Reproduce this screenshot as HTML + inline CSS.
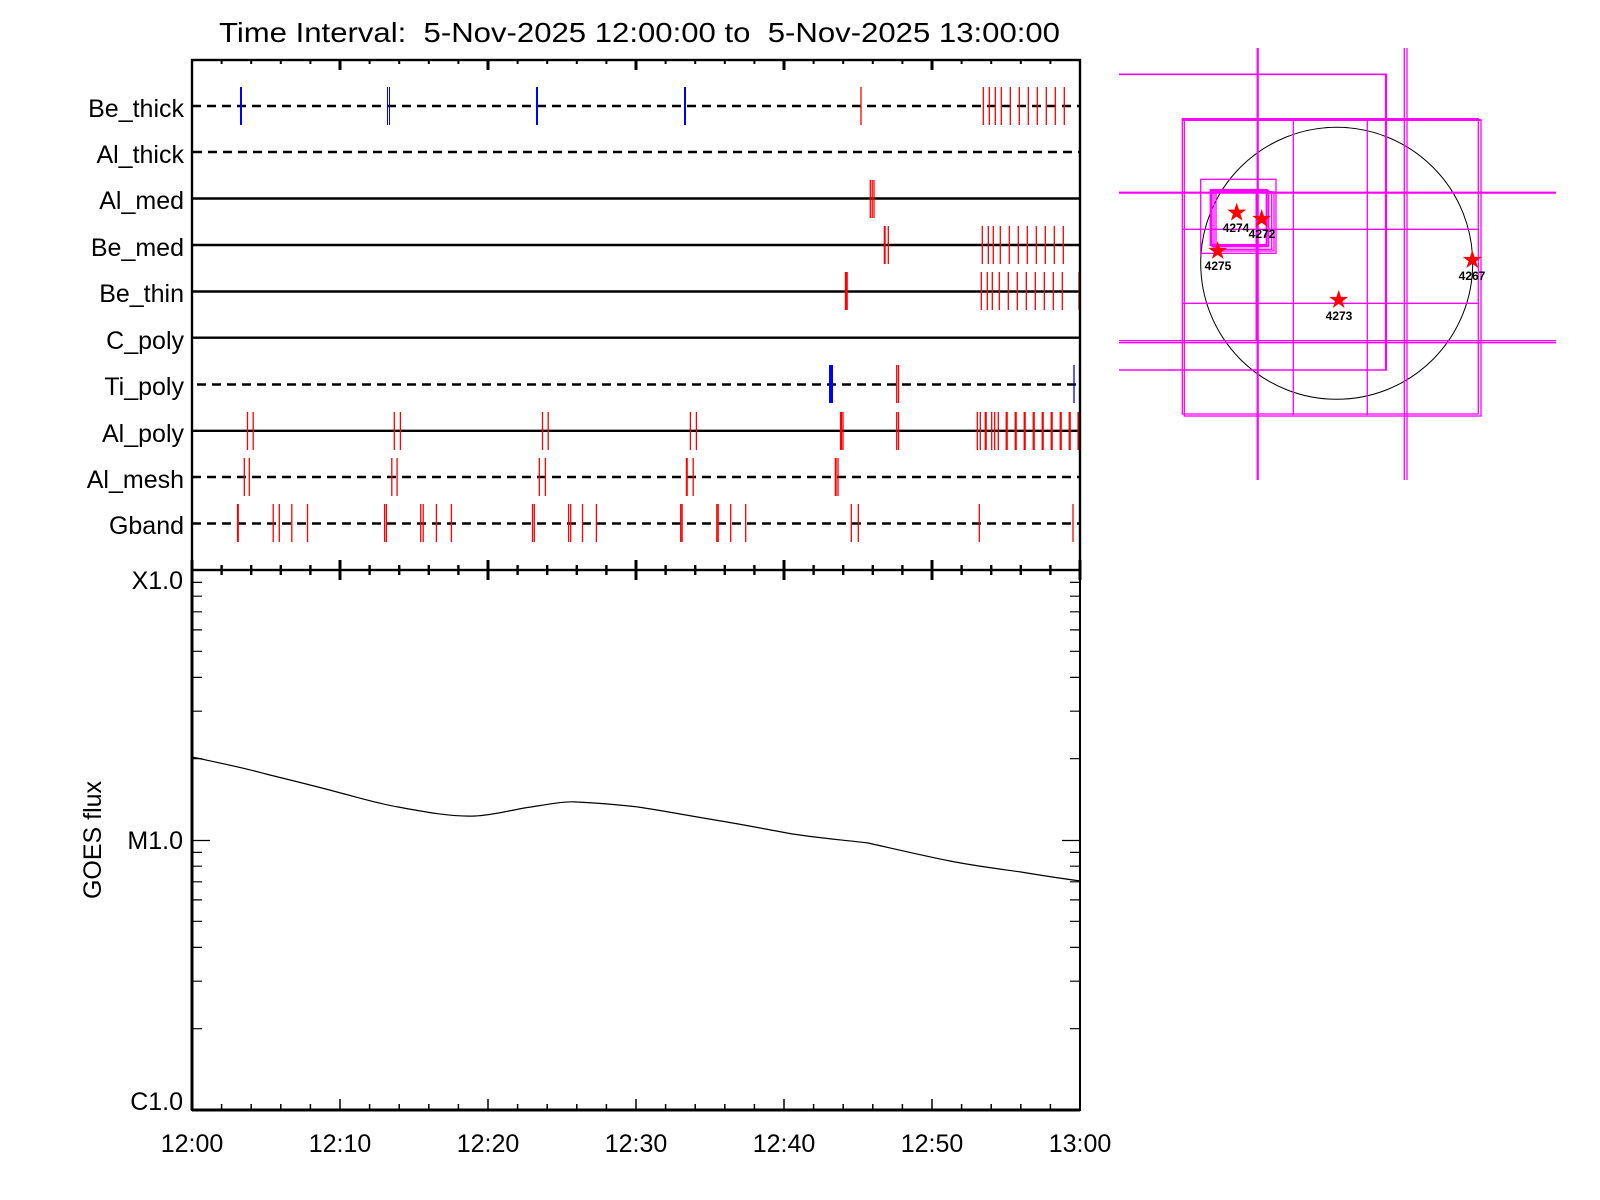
<!DOCTYPE html>
<html><head><meta charset="utf-8"><style>body{margin:0;background:#fff}svg{display:block}</style></head><body>
<svg xmlns="http://www.w3.org/2000/svg" width="1600" height="1200" viewBox="0 0 1600 1200" font-family="Liberation Sans, sans-serif">
<rect width="1600" height="1200" fill="#fff"/>
<text x="219" y="42" font-size="28" textLength="841" lengthAdjust="spacingAndGlyphs">Time Interval:&#160; 5-Nov-2025 12:00:00 to&#160; 5-Nov-2025 13:00:00</text>

<g stroke="#000" stroke-width="2.4" fill="none">
<line x1="192" y1="106" x2="1080" y2="106" stroke-dasharray="9,6"/>
<line x1="193" y1="152" x2="1080" y2="152" stroke-dasharray="9,6"/>
<line x1="192" y1="198.5" x2="1080" y2="198.5"/>
<line x1="192" y1="245" x2="1080" y2="245"/>
<line x1="192" y1="291.5" x2="1080" y2="291.5"/>
<line x1="192" y1="337.7" x2="1080" y2="337.7"/>
<line x1="197" y1="384.5" x2="1080" y2="384.5" stroke-dasharray="9,6"/>
<line x1="192" y1="430.8" x2="1080" y2="430.8"/>
<line x1="192" y1="477" x2="1080" y2="477" stroke-dasharray="9,6"/>
<line x1="192" y1="523.5" x2="1080" y2="523.5" stroke-dasharray="9,6"/>
</g>

<g font-size="25" text-anchor="end">
<text x="184" y="117">Be_thick</text>
<text x="184" y="163">Al_thick</text>
<text x="184" y="209">Al_med</text>
<text x="184" y="256">Be_med</text>
<text x="184" y="302">Be_thin</text>
<text x="184" y="349">C_poly</text>
<text x="184" y="395">Ti_poly</text>
<text x="184" y="442">Al_poly</text>
<text x="184" y="488">Al_mesh</text>
<text x="184" y="534">Gband</text>
</g>

<g stroke="#0000ff" stroke-width="2">
<line x1="241" y1="87" x2="241" y2="125"/>
<line x1="387.5" y1="87" x2="387.5" y2="125" stroke-width="1"/><line x1="389.5" y1="87" x2="389.5" y2="125" stroke-width="1"/>
<line x1="537" y1="87" x2="537" y2="125"/>
<line x1="685" y1="87" x2="685" y2="125"/>
<line x1="831" y1="365" x2="831" y2="403" stroke-width="4"/>
<line x1="1074" y1="365" x2="1074" y2="403" stroke-width="1.3"/>
</g>

<g stroke="#ff0000" stroke-width="1.3">
<path d="M861 87V125M983.3 87V125M989.3 87V125M995.3 87V125M1001.3 87V125M1010.3 87V125M1019.3 87V125M1028.3 87V125M1037.3 87V125M1046.3 87V125M1055.3 87V125M1064.3 87V125"/>
<path d="M870.3 180V218M872.2 180V218M874 180V218"/>
<path d="M888.3 226V264M982.3 226V264M988.3 226V264M993.3 226V264M1000.3 226V264M1009.3 226V264M1018.3 226V264M1027.3 226V264M1036.3 226V264M1045.3 226V264M1054.3 226V264M1063.3 226V264"/>
<line x1="884.7" y1="226" x2="884.7" y2="264" stroke-width="2"/>
<line x1="846.3" y1="272" x2="846.3" y2="310" stroke-width="3"/>
<path d="M981.3 272V310M987.3 272V310M992.3 272V310M999.3 272V310M1008.3 272V310M1017.3 272V310M1026.3 272V310M1035.3 272V310M1044.3 272V310M1053.3 272V310M1062.3 272V310M1079 272V310"/>
<path d="M896.7 365V403M898.5 365V403"/>
<path d="M247.5 412V450M253.2 412V450M394.3 412V450M400.4 412V450M542.5 412V450M548.2 412V450M690.4 412V450M696.4 412V450M843 412V450M896.7 412V450M898.5 412V450M977.3 412V450M980.3 412V450M991.7 412V450M994.7 412V450M998.3 412V450"/>
<g stroke-width="2.2"><path d="M841 412V450M985.7 412V450M1006.7 412V450M1015.7 412V450M1024.7 412V450M1033.7 412V450M1042.7 412V450M1051.7 412V450M1060.7 412V450M1069.7 412V450M1078.5 412V450"/></g>
<path d="M244.3 458V496M249.3 458V496M391.8 458V496M397.1 458V496M539.3 458V496M545.4 458V496M693.2 458V496M838 458V496"/>
<line x1="686.8" y1="458" x2="686.8" y2="496" stroke-width="2"/><line x1="835.7" y1="458" x2="835.7" y2="496" stroke-width="2"/>
<line x1="237.9" y1="504" x2="237.9" y2="542" stroke-width="2"/>
<path d="M273.2 504V542M279.3 504V542M291.8 504V542M307.5 504V542M384.6 504V542M386.4 504V542M420.7 504V542M423.2 504V542M436.4 504V542M451.4 504V542M532.5 504V542M534.3 504V542M568.6 504V542M570.7 504V542M582.5 504V542M596.4 504V542M680.7 504V542M682.1 504V542M716.8 504V542M718.2 504V542M730.7 504V542M745.7 504V542M851.3 504V542M858.3 504V542M979.3 504V542M1073 504V542"/>
</g>

<g stroke="#000" fill="none">
<rect x="192" y="60" width="888" height="510" stroke-width="2.4"/>
<path stroke-width="2" d="M221.6 60v4M251.2 60v4M280.8 60v4M310.4 60v4M369.6 60v4M399.2 60v4M428.8 60v4M458.4 60v4M517.6 60v4M547.2 60v4M576.8 60v4M606.4 60v4M665.6 60v4M695.2 60v4M724.8 60v4M754.4 60v4M813.6 60v4M843.2 60v4M872.8 60v4M902.4 60v4M961.6 60v4M991.2 60v4M1020.8 60v4M1050.4 60v4"/>
<path stroke-width="3" d="M340 60v10M488 60v10M636 60v10M784 60v10M932 60v10"/>
<path stroke-width="2.4" d="M221.6 565v10M251.2 565v10M280.8 565v10M310.4 565v10M369.6 565v10M399.2 565v10M428.8 565v10M458.4 565v10M517.6 565v10M547.2 565v10M576.8 565v10M606.4 565v10M665.6 565v10M695.2 565v10M724.8 565v10M754.4 565v10M813.6 565v10M843.2 565v10M872.8 565v10M902.4 565v10M961.6 565v10M991.2 565v10M1020.8 565v10M1050.4 565v10"/>
<path stroke-width="3" d="M192 560v20M340 560v20M488 560v20M636 560v20M784 560v20M932 560v20M1080 560v20"/>
</g>

<g stroke="#000" fill="none">
<rect x="192" y="570" width="888" height="540" stroke-width="2"/>
<line x1="192" y1="570" x2="192" y2="1110" stroke-width="3"/>
<line x1="192" y1="1110" x2="1080" y2="1110" stroke-width="3"/>
<path stroke-width="1.5" d="M221.6 1110v-6M251.2 1110v-6M280.8 1110v-6M310.4 1110v-6M369.6 1110v-6M399.2 1110v-6M428.8 1110v-6M458.4 1110v-6M517.6 1110v-6M547.2 1110v-6M576.8 1110v-6M606.4 1110v-6M665.6 1110v-6M695.2 1110v-6M724.8 1110v-6M754.4 1110v-6M813.6 1110v-6M843.2 1110v-6M872.8 1110v-6M902.4 1110v-6M961.6 1110v-6M991.2 1110v-6M1020.8 1110v-6M1050.4 1110v-6"/>
<path stroke-width="1.5" d="M340 1110v-11M488 1110v-11M636 1110v-11M784 1110v-11M932 1110v-11M1080 1110v-11"/>
<path stroke-width="1.2" d="M192 582.4h10M192 596.2h10M192 611.8h10M192 629.9h10M192 651.3h10M192 677.4h10M192 711.2h10M192 758.7h10M192 852.4h10M192 866.2h10M192 881.8h10M192 899.9h10M192 921.3h10M192 947.4h10M192 981.2h10M192 1028.7h10M192 840.5h18
M1080 582.4h-10M1080 596.2h-10M1080 611.8h-10M1080 629.9h-10M1080 651.3h-10M1080 677.4h-10M1080 711.2h-10M1080 758.7h-10M1080 852.4h-10M1080 866.2h-10M1080 881.8h-10M1080 899.9h-10M1080 921.3h-10M1080 947.4h-10M1080 981.2h-10M1080 1028.7h-10M1080 840.5h-18"/>
<path stroke-width="1.2" d="M192 757 C215 762 245 768 266 774 C290 780 315 786 337 792 C360 798 380 804 398 807 C420 811 450 817 475 816 C495 815 515 809 531 807 C550 804 565 801 577 802 C600 803 620 805 638 807 C665 811 690 816 715 820 C740 824 765 829 787 833 C815 838 845 840 868 843 C895 849 925 856 950 861 C975 866 1000 869 1021 872 C1045 876 1065 879 1081 881"/>
</g>
<g font-size="25" text-anchor="end">
<text x="183" y="589">X1.0</text>
<text x="183" y="849">M1.0</text>
<text x="183" y="1110">C1.0</text>
</g>
<text transform="translate(101,840) rotate(-90)" font-size="25" text-anchor="middle">GOES flux</text>
<g font-size="25" text-anchor="middle">
<text x="192" y="1152">12:00</text>
<text x="340" y="1152">12:10</text>
<text x="488" y="1152">12:20</text>
<text x="636" y="1152">12:30</text>
<text x="784" y="1152">12:40</text>
<text x="932" y="1152">12:50</text>
<text x="1080" y="1152">13:00</text>
</g>

<g fill="none" stroke="#ff00ff" stroke-width="1.3">
<circle cx="1336.7" cy="263.3" r="136" stroke="#000" stroke-width="1"/>
<line x1="1257.7" y1="48" x2="1257.7" y2="480" stroke-width="2.2"/>
<line x1="1404.3" y1="48" x2="1404.3" y2="480"/>
<line x1="1407" y1="48" x2="1407" y2="480"/>
<line x1="1119" y1="192.7" x2="1556" y2="192.7" stroke-width="2.2"/>
<line x1="1119" y1="340.7" x2="1556" y2="340.7"/>
<line x1="1119" y1="342.7" x2="1556" y2="342.7"/>
<path d="M1119 74.3H1386V370H1119" stroke-width="1.6"/>
<line x1="1386" y1="74.3" x2="1386" y2="370" stroke-width="2.2"/>
<rect x="1182.3" y="118.7" width="296" height="295.3"/>
<rect x="1184.3" y="120" width="296.7" height="296"/>
<line x1="1182" y1="120" x2="1481" y2="120" stroke-width="2"/>
<line x1="1293.3" y1="119" x2="1293.3" y2="415"/>
<line x1="1367.3" y1="119" x2="1367.3" y2="415"/>
<line x1="1183" y1="229.3" x2="1479" y2="229.3"/>
<line x1="1183" y1="303.3" x2="1479" y2="303.3"/>
<rect x="1200.7" y="179.3" width="75.3" height="74"/>
<rect x="1210.7" y="190" width="56" height="55" stroke-width="2.2"/>
<rect x="1212" y="190.7" width="56.7" height="56"/>
<rect x="1214" y="191.7" width="57.7" height="57.6"/>
<rect x="1216" y="192" width="58" height="59"/>
<line x1="1256.5" y1="190" x2="1256.5" y2="340" stroke-width="2"/>
</g>
<g fill="#ff0000">
<polygon points="1236.7,202.7 1239,209.6 1246.2,209.6 1240.4,213.9 1242.6,220.7 1236.7,216.5 1230.8,220.7 1233,213.9 1227.2,209.6 1234.4,209.6"/>
<polygon points="1261.7,209 1264,215.9 1271.2,215.9 1265.4,220.2 1267.6,227 1261.7,222.8 1255.8,227 1258,220.2 1252.2,215.9 1259.4,215.9"/>
<polygon points="1217.7,241 1220,247.9 1227.2,247.9 1221.4,252.2 1223.6,259 1217.7,254.8 1211.8,259 1214,252.2 1208.2,247.9 1215.4,247.9"/>
<polygon points="1472.3,250 1474.6,256.9 1481.8,256.9 1476,261.2 1478.2,268 1472.3,263.8 1466.4,268 1468.6,261.2 1462.8,256.9 1470,256.9"/>
<polygon points="1338.7,290 1341,296.9 1348.2,296.9 1342.4,301.2 1344.6,308 1338.7,303.8 1332.8,308 1335,301.2 1329.2,296.9 1336.4,296.9"/>
</g>
<g font-size="12" font-weight="bold" text-anchor="middle" fill="#000">
<text x="1236" y="232">4274</text>
<text x="1262" y="238">4272</text>
<text x="1218" y="270">4275</text>
<text x="1472" y="280">4267</text>
<text x="1339" y="320">4273</text>
</g>
</svg>
</body></html>
